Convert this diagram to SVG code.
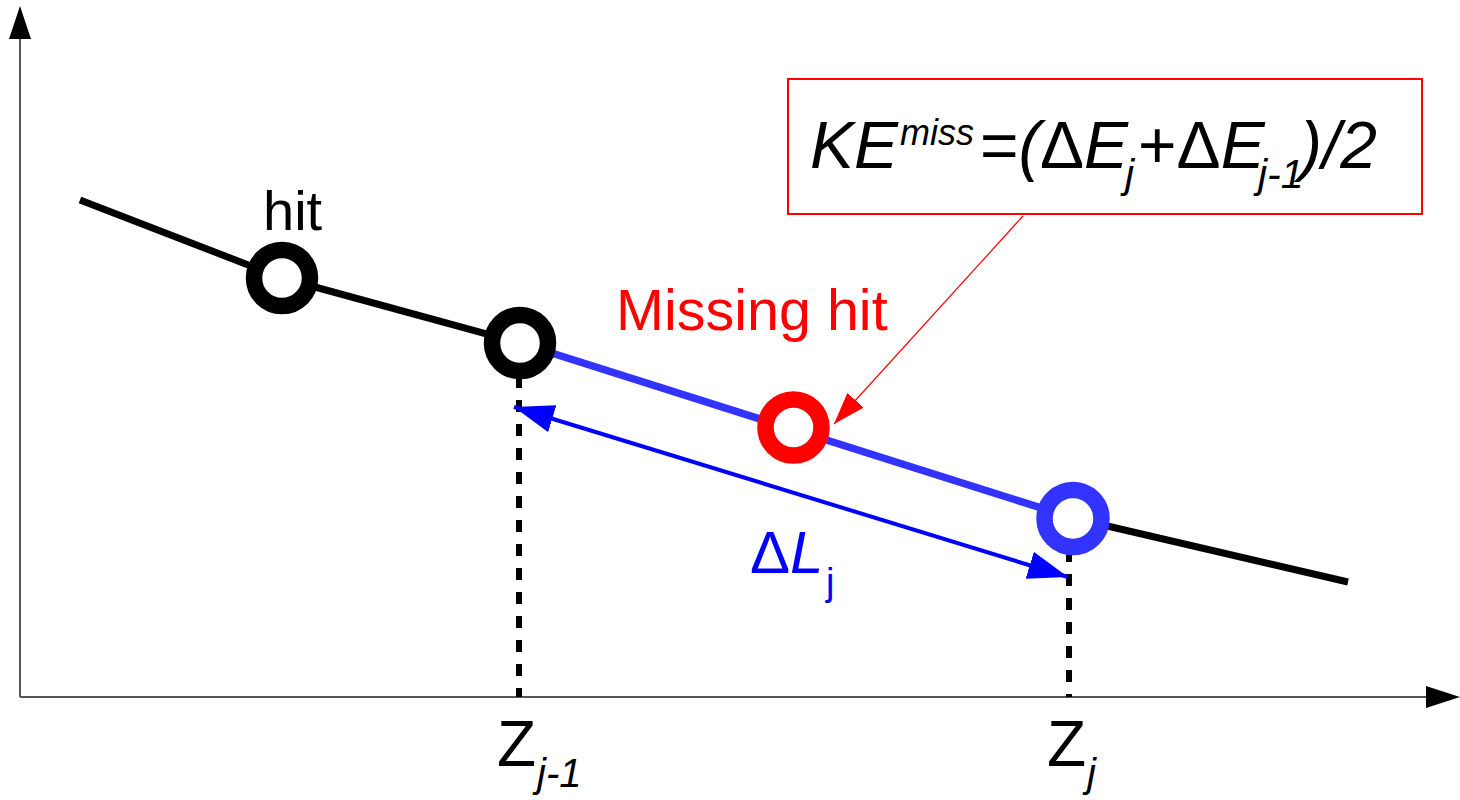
<svg xmlns="http://www.w3.org/2000/svg" width="1460" height="800" viewBox="0 0 1460 800">
<style>
text{font-family:"Liberation Sans",Arial,sans-serif}
.it{font-style:italic}
.axis{stroke:#555;stroke-width:2;fill:none}
.trk{stroke:#000;stroke-width:7;fill:none}
.dash{stroke:#000;stroke-width:6;stroke-dasharray:12 12;fill:none}
.ring{fill:#fff;stroke-width:16.5}
</style>
<defs>
<marker id="ab" markerUnits="userSpaceOnUse" markerWidth="42" markerHeight="30" refX="40" refY="14" orient="auto-start-reverse" viewBox="0 0 42 30"><path d="M0,0 L40,14 L0,28 Z" fill="#0000ff"/></marker>
<marker id="ar" markerUnits="userSpaceOnUse" markerWidth="34" markerHeight="24" refX="32" refY="11" orient="auto" viewBox="0 0 34 24"><path d="M0,0 L32,11 L0,22 Z" fill="#ff0000"/></marker>
</defs>
<g id="axes">
<line class="axis" x1="20" y1="697" x2="20" y2="38"/>
<line class="axis" x1="20" y1="697" x2="1428" y2="697"/>
<path d="M20,6 L31,39 L9,39 Z" fill="#000"/>
<path d="M1460,697 L1426,686 L1426,708 Z" fill="#000"/>
</g>
<g id="connectors">
<line class="trk" x1="80" y1="200" x2="282" y2="278"/>
<line class="trk" x1="282" y1="278" x2="520" y2="343"/>
<line x1="520" y1="343" x2="1073" y2="518" stroke="#3333ff" stroke-width="7.5"/>
<line class="trk" x1="1073" y1="518" x2="1348" y2="582"/>
<line class="dash" x1="519" y1="376" x2="519" y2="697"/>
<line class="dash" x1="1069" y1="550" x2="1069" y2="697"/>
<line x1="514" y1="407" x2="1068" y2="577" stroke="#0000ff" stroke-width="4" marker-start="url(#ab)" marker-end="url(#ab)"/>
<line x1="1023" y1="216" x2="834" y2="424" stroke="#ff0000" stroke-width="1.2" marker-end="url(#ar)"/>
</g>
<g id="hit1"><circle class="ring" cx="282" cy="278" r="28" stroke="#000"/></g>
<g id="hit2"><circle class="ring" cx="520" cy="343" r="28" stroke="#000"/></g>
<g id="miss"><circle class="ring" cx="793.5" cy="427.5" r="28" stroke="#ff0000"/></g>
<g id="hit3"><circle class="ring" cx="1073" cy="518.5" r="28.5" stroke="#3333ff"/></g>
<g id="formula">
<rect x="788" y="79" width="634" height="135" fill="none" stroke="#ff0000" stroke-width="2"/>
<text font-size="66" y="168"><tspan class="it" x="810">KE</tspan><tspan class="it" x="900" y="145" font-size="36">miss</tspan><tspan x="980" y="168">=</tspan><tspan class="it">(</tspan><tspan x="1040">Δ</tspan><tspan class="it">E</tspan><tspan class="it" x="1125" font-size="41" y="188">j</tspan><tspan x="1138" y="168">+</tspan><tspan>Δ</tspan><tspan class="it">E</tspan><tspan class="it" x="1258" font-size="41" y="188">j-1</tspan><tspan class="it" x="1300" y="168">)/2</tspan></text>
</g>
<g id="labels">
<text x="263" y="230" font-size="56">hit</text>
<text x="616" y="330" font-size="57.5" fill="#ff0000">Missing hit</text>
<text x="750" y="573" font-size="60" fill="#0000ff">Δ<tspan class="it">L</tspan><tspan x="826" y="595" font-size="38">j</tspan></text>
<text x="497" y="766" font-size="64">Z<tspan class="it" x="537" y="787" font-size="40">j-1</tspan></text>
<text x="1047" y="766" font-size="64">Z<tspan class="it" x="1087" y="787" font-size="40">j</tspan></text>
</g>
</svg>
